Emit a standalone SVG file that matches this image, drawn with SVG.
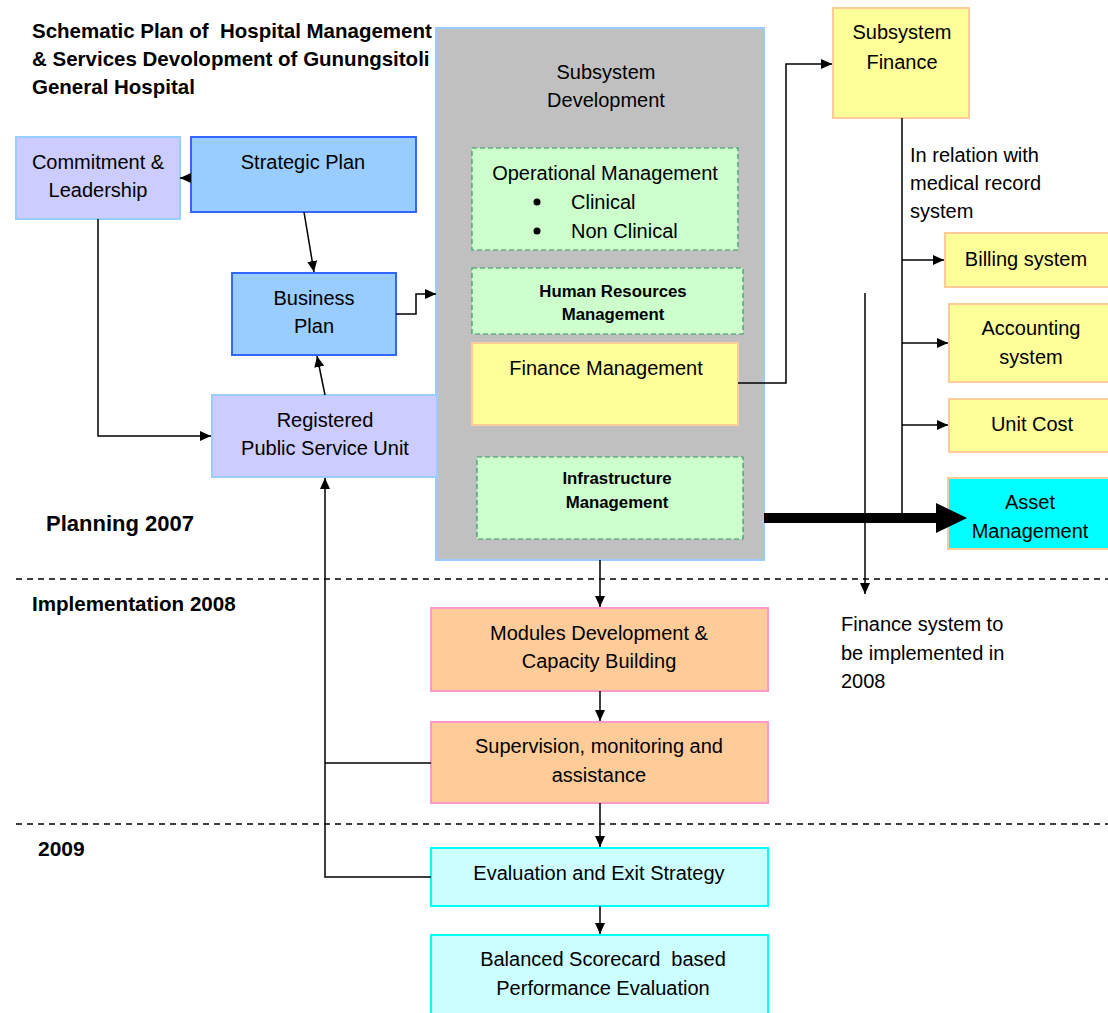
<svg xmlns="http://www.w3.org/2000/svg" width="1108" height="1013" viewBox="0 0 1108 1013">
<defs>
<marker id="ah" markerWidth="12" markerHeight="12" refX="11" refY="6" orient="auto" markerUnits="userSpaceOnUse">
<path d="M0,1 L11,6 L0,11 Z" fill="#000"/>
</marker>
<marker id="ahBig" markerWidth="34" markerHeight="32" refX="2" refY="15" orient="auto" markerUnits="userSpaceOnUse">
<path d="M0,0 L31,15 L0,30 Z" fill="#000"/>
</marker>
</defs>
<style>
text{font-family:"Liberation Sans",Arial,sans-serif;font-size:20px;fill:#000;white-space:pre}
.c{text-anchor:middle}
.s{font-size:16.8px;font-weight:bold}
.t{font-size:20.5px;font-weight:bold}
.p{font-weight:bold}
.lav{fill:#CCCCFF;stroke:#99CCFF;stroke-width:2}
.blu{fill:#99CCFF;stroke:#3366FF;stroke-width:2}
.gry{fill:#C0C0C0;stroke:#99CCFF;stroke-width:2}
.grn{fill:#CCFFCC;stroke:#339966;stroke-width:1.2;stroke-dasharray:5,3}
.yel{fill:#FFFF99;stroke:#FFCC99;stroke-width:2}
.cya{fill:#00FFFF;stroke:#FFCC99;stroke-width:2}
.org{fill:#FFCC99;stroke:#FF99CC;stroke-width:2}
.lcy{fill:#CCFFFF;stroke:#00FFFF;stroke-width:2}
.ln{fill:none;stroke:#000;stroke-width:1.5}
.dash{fill:none;stroke:#000;stroke-width:1.3;stroke-dasharray:6,5}
</style>

<g id="title">
<text class="t" x="32" y="38">Schematic Plan of&#160; Hospital Management</text>
<text class="t" x="32" y="66">&amp; Services Devolopment of Gunungsitoli</text>
<text class="t" x="32" y="94">General Hospital</text>
</g>

<g id="phases">
<line class="dash" x1="16" y1="579" x2="1108" y2="579"/>
<line class="dash" x1="16" y1="824" x2="1108" y2="824"/>
<text class="p" x="46" y="531" style="font-size:22px">Planning 2007</text>
<text class="p" x="32" y="611" style="font-size:20.6px">Implementation 2008</text>
<text class="p" x="38" y="856" style="font-size:21px">2009</text>
</g>

<g id="subsystem-development">
<rect class="gry" x="436" y="28" width="328" height="532"/>
<text class="c" x="606" y="79">Subsystem</text>
<text class="c" x="606" y="107">Development</text>
</g>

<g id="commitment">
<rect class="lav" x="16" y="137" width="164" height="82"/>
<text class="c" x="98" y="169">Commitment &amp;</text>
<text class="c" x="98" y="197">Leadership</text>
</g>

<g id="strategic-plan">
<rect class="blu" x="191" y="137" width="225" height="75"/>
<text class="c" x="303" y="169">Strategic Plan</text>
</g>

<g id="business-plan">
<rect class="blu" x="232" y="273" width="164" height="82"/>
<text class="c" x="314" y="305">Business</text>
<text class="c" x="314" y="333">Plan</text>
</g>

<g id="registered">
<rect class="lav" x="212" y="395" width="225" height="82"/>
<text class="c" x="325" y="427">Registered</text>
<text class="c" x="325" y="455">Public Service Unit</text>
</g>

<g id="operational">
<rect class="grn" x="472" y="148" width="266" height="102"/>
<text class="c" x="605" y="180">Operational Management</text>
<circle cx="537" cy="202" r="3.5" fill="#000"/>
<text x="571" y="209">Clinical</text>
<circle cx="537" cy="231" r="3.5" fill="#000"/>
<text x="571" y="238">Non Clinical</text>
</g>

<g id="human-resources">
<rect class="grn" x="472" y="268" width="271" height="66"/>
<text class="c s" x="613" y="297">Human Resources</text>
<text class="c s" x="613" y="320">Management</text>
</g>

<g id="finance-management">
<rect class="yel" x="472" y="343" width="266" height="82"/>
<text class="c" x="606" y="375">Finance Management</text>
</g>

<g id="infrastructure">
<rect class="grn" x="477" y="457" width="266" height="82"/>
<text class="c s" x="617" y="484">Infrastructure</text>
<text class="c s" x="617" y="508">Management</text>
</g>

<g id="subsystem-finance">
<rect class="yel" x="833" y="8" width="136" height="110"/>
<text class="c" x="902" y="39">Subsystem</text>
<text class="c" x="902" y="69">Finance</text>
</g>

<g id="billing">
<rect class="yel" x="945" y="233" width="165" height="54"/>
<text class="c" x="1026" y="266">Billing system</text>
</g>

<g id="accounting">
<rect class="yel" x="949" y="304" width="161" height="78"/>
<text class="c" x="1031" y="335">Accounting</text>
<text class="c" x="1031" y="364">system</text>
</g>

<g id="unit-cost">
<rect class="yel" x="949" y="399" width="161" height="53"/>
<text class="c" x="1032" y="431">Unit Cost</text>
</g>

<g id="asset">
<rect class="cya" x="948" y="478" width="162" height="71"/>
<text class="c" x="1030" y="509">Asset</text>
<text class="c" x="1030" y="538">Management</text>
</g>

<g id="modules">
<rect class="org" x="431" y="608" width="337" height="83"/>
<text class="c" x="599" y="640">Modules Development &amp;</text>
<text class="c" x="599" y="668">Capacity Building</text>
</g>

<g id="supervision">
<rect class="org" x="431" y="722" width="337" height="81"/>
<text class="c" x="599" y="753">Supervision, monitoring and</text>
<text class="c" x="599" y="782">assistance</text>
</g>

<g id="evaluation">
<rect class="lcy" x="431" y="848" width="337" height="58"/>
<text class="c" x="599" y="880">Evaluation and Exit Strategy</text>
</g>

<g id="balanced">
<rect class="lcy" x="431" y="935" width="337" height="82"/>
<text class="c" x="603" y="966">Balanced Scorecard&#160; based</text>
<text class="c" x="603" y="995">Performance Evaluation</text>
</g>

<g id="notes">
<text x="910" y="162">In relation with</text>
<text x="910" y="190">medical record</text>
<text x="910" y="218">system</text>
<text x="841" y="631">Finance system to</text>
<text x="841" y="660">be implemented in</text>
<text x="841" y="688">2008</text>
</g>

<g id="connectors">
<line class="ln" x1="191" y1="178" x2="180" y2="178" marker-end="url(#ah)"/>
<polyline class="ln" points="98,219 98,436 211,436" marker-end="url(#ah)"/>
<line class="ln" x1="304" y1="212" x2="314" y2="272" marker-end="url(#ah)"/>
<line class="ln" x1="325" y1="395" x2="317" y2="356" marker-end="url(#ah)"/>
<polyline class="ln" points="396,314 416,314 416,294 436,294" marker-end="url(#ah)"/>
<polyline class="ln" points="738,383 786,383 786,64 832,64" marker-end="url(#ah)"/>
<line class="ln" x1="902" y1="118" x2="902" y2="514"/>
<line class="ln" x1="902" y1="260" x2="944" y2="260" marker-end="url(#ah)"/>
<line class="ln" x1="902" y1="343" x2="948" y2="343" marker-end="url(#ah)"/>
<line class="ln" x1="902" y1="425" x2="948" y2="425" marker-end="url(#ah)"/>
<line class="ln" x1="865" y1="293" x2="865" y2="594" marker-end="url(#ah)"/>
<line x1="764" y1="518" x2="938" y2="518" stroke="#000" stroke-width="10" marker-end="url(#ahBig)"/>
<line class="ln" x1="600" y1="560" x2="600" y2="607" marker-end="url(#ah)"/>
<line class="ln" x1="600" y1="691" x2="600" y2="721" marker-end="url(#ah)"/>
<line class="ln" x1="600" y1="803" x2="600" y2="847" marker-end="url(#ah)"/>
<line class="ln" x1="600" y1="906" x2="600" y2="934" marker-end="url(#ah)"/>
<polyline class="ln" points="431,877 325,877 325,478" marker-end="url(#ah)"/>
<line class="ln" x1="431" y1="763" x2="325" y2="763"/>
</g>
</svg>
